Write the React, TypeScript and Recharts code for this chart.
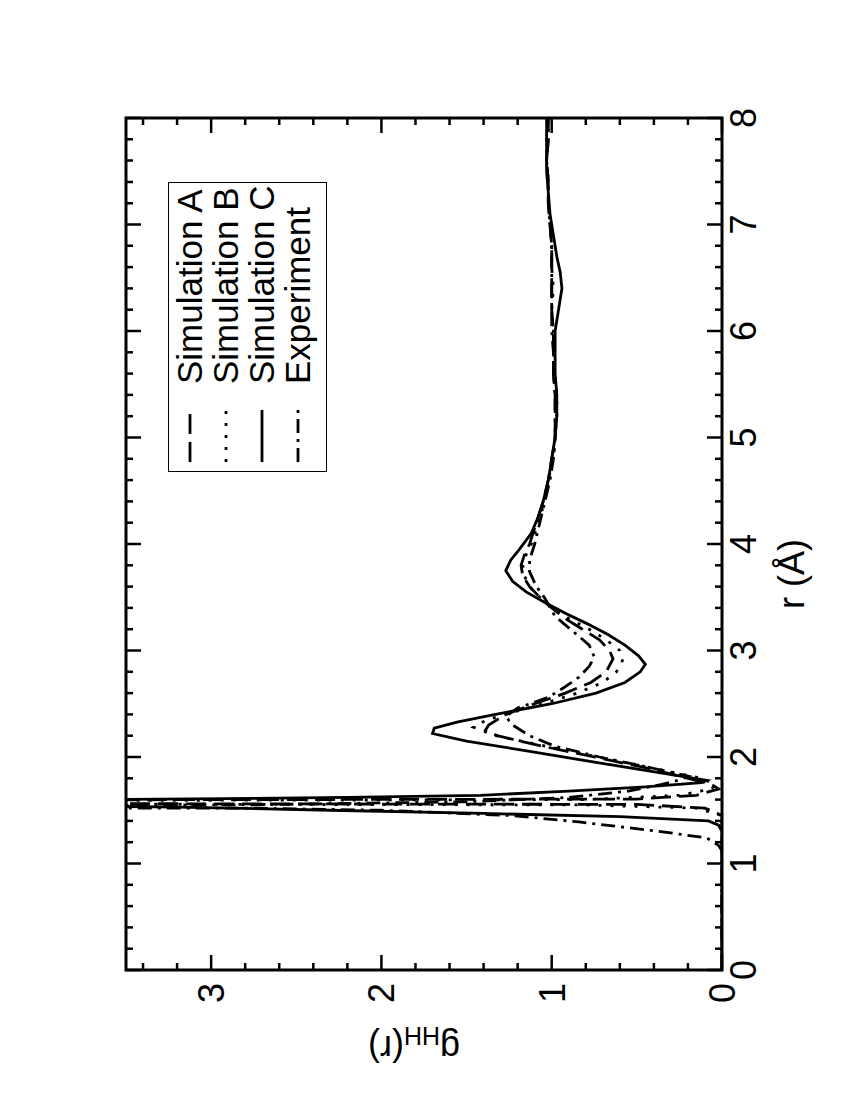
import { LineChart, Line, XAxis, YAxis, ReferenceArea, Label } from "recharts";

// Simulation A (dashed)
const rA = [0, 1.0, 1.45, 1.52, 1.555, 1.58, 1.605, 1.64, 1.7, 1.75, 1.8, 1.9, 2.0, 2.1, 2.2, 2.25, 2.3, 2.4, 2.5, 2.6, 2.7, 2.8, 2.92, 3.0, 3.1, 3.2, 3.3, 3.4, 3.5, 3.6, 3.7, 3.8, 3.9, 4.0, 4.2, 4.4, 4.6, 4.8, 5.0, 5.2, 5.4, 5.6, 5.8, 6.0, 6.2, 6.4, 6.6, 6.8, 7.0, 7.2, 7.4, 7.6, 7.8, 8.0];
const gA = [0, 0, 0, 0.1, 0.5, 12, 0.5, 0.15, 0.02, 0.07, 0.2, 0.45, 0.75, 1.05, 1.32, 1.39, 1.37, 1.27, 1.1, 0.92, 0.77, 0.68, 0.64, 0.66, 0.72, 0.82, 0.92, 1.0, 1.07, 1.13, 1.17, 1.18, 1.16, 1.13, 1.09, 1.05, 1.02, 1.0, 0.98, 0.98, 0.98, 0.99, 0.99, 0.99, 1.0, 1.0, 1.0, 1.0, 1.01, 1.02, 1.02, 1.03, 1.02, 1.02];

// Simulation B (dotted)
const rB = [0, 1.0, 1.45, 1.52, 1.55, 1.575, 1.6, 1.64, 1.7, 1.74, 1.8, 1.9, 2.0, 2.1, 2.2, 2.28, 2.35, 2.4, 2.5, 2.6, 2.7, 2.8, 2.92, 3.0, 3.1, 3.2, 3.3, 3.4, 3.5, 3.6, 3.7, 3.8, 3.9, 4.0, 4.2, 4.4, 4.6, 4.8, 5.0, 5.2, 5.4, 5.6, 5.8, 6.0, 6.2, 6.4, 6.6, 6.8, 7.0, 7.2, 7.4, 7.6, 7.8, 8.0];
const gB = [0, 0, 0, 0.15, 0.8, 10, 0.8, 0.25, 0.06, 0.04, 0.12, 0.42, 0.73, 1.03, 1.33, 1.46, 1.38, 1.27, 1.05, 0.85, 0.7, 0.62, 0.58, 0.6, 0.68, 0.78, 0.9, 1.0, 1.07, 1.13, 1.16, 1.17, 1.15, 1.12, 1.08, 1.04, 1.02, 0.99, 0.98, 0.97, 0.97, 0.98, 0.99, 0.99, 1.0, 0.99, 1.0, 1.0, 1.01, 1.02, 1.02, 1.03, 1.03, 1.02];

// Simulation C (solid)
const rC = [0, 1.0, 1.3, 1.36, 1.4, 1.44, 1.47, 1.5, 1.53, 1.565, 1.6, 1.62, 1.64, 1.68, 1.72, 1.76, 1.78, 1.85, 1.95, 2.05, 2.15, 2.22, 2.27, 2.33, 2.4, 2.5, 2.6, 2.7, 2.8, 2.87, 2.95, 3.05, 3.15, 3.25, 3.35, 3.45, 3.55, 3.65, 3.75, 3.85, 3.95, 4.1, 4.25, 4.4, 4.6, 4.8, 5.0, 5.2, 5.4, 5.6, 5.8, 6.0, 6.2, 6.4, 6.55, 6.7, 6.9, 7.1, 7.3, 7.5, 7.7, 8.0];
const gC = [0, 0, 0, 0.02, 0.08, 0.6, 1.4, 2.3, 3.2, 5.2, 3.6, 2.2, 1.42, 0.9, 0.45, 0.12, 0.09, 0.36, 0.74, 1.12, 1.5, 1.7, 1.69, 1.55, 1.33, 1.0, 0.74, 0.57, 0.48, 0.45, 0.49, 0.57, 0.67, 0.79, 0.92, 1.04, 1.15, 1.23, 1.27, 1.24, 1.19, 1.12, 1.08, 1.05, 1.02, 1.0, 0.98, 0.97, 0.97, 0.98, 0.98, 0.98, 0.96, 0.94, 0.95, 0.97, 0.99, 1.01, 1.02, 1.03, 1.03, 1.03];

// Experiment (dash-dot)
const rE = [0, 1.0, 1.12, 1.17, 1.24, 1.3, 1.39, 1.45, 1.5, 1.52, 1.535, 1.55, 1.58, 1.62, 1.68, 1.74, 1.78, 1.82, 1.9, 2.0, 2.1, 2.2, 2.3, 2.38, 2.46, 2.56, 2.65, 2.75, 2.85, 2.94, 3.05, 3.16, 3.32, 3.49, 3.6, 3.74, 3.85, 4.0, 4.2, 4.4, 4.6, 4.8, 5.0, 5.2, 5.4, 5.6, 5.8, 6.0, 6.2, 6.4, 6.6, 6.8, 7.0, 7.2, 7.4, 7.6, 7.8, 8.0];
const gE = [0, 0, 0, 0.02, 0.09, 0.36, 0.84, 1.23, 2.0, 2.8, 12, 2.8, 1.5, 0.9, 0.55, 0.36, 0.26, 0.2, 0.42, 0.72, 0.98, 1.13, 1.23, 1.27, 1.2, 1.02, 0.93, 0.84, 0.78, 0.75, 0.78, 0.86, 0.98, 1.04, 1.09, 1.13, 1.13, 1.1, 1.07, 1.04, 1.01, 0.99, 0.98, 0.98, 0.98, 0.99, 0.99, 1.0, 1.0, 1.0, 1.0, 1.0, 1.01, 1.02, 1.02, 1.03, 1.02, 1.02];

const xMajor = [0, 1, 2, 3, 4, 5, 6, 7, 8];
const yMajor = [0, 1, 2, 3];
const seriesNames = ["Simulation A", "Simulation B", "Simulation C", "Experiment"];

// minor ticks every 0.2
const xTicks = Array.from({ length: 41 }, (_, i) => Math.round(i * 2) / 10);
const yTicks = Array.from({ length: 18 }, (_, i) => Math.round(i * 2) / 10);

const toPoints = (rs: number[], gs: number[]) => rs.map((r, i) => ({ r, g: gs[i] }));

const W = 1002;
const H = 726;
const MARGIN = { top: 20, right: 40, bottom: 0, left: 0 };
const Y_AXIS_W = 110;
const X_AXIS_H = 110;
const PLOT_L = MARGIN.left + Y_AXIS_W;
const PLOT_T = MARGIN.top;
const PLOT_R = W - MARGIN.right;
const PLOT_B = H - MARGIN.bottom - X_AXIS_H;
const FONT = "'Liberation Sans', Arial, Helvetica, sans-serif";

const DASH: Record<string, string | undefined> = {
  "Simulation A": "20 8",
  "Simulation B": "3 9",
  "Simulation C": undefined,
  Experiment: "14 6 3 6",
};

const isMajor = (v: number) => Math.abs(v - Math.round(v)) < 1e-6;

function XTick(props: any) {
  const { x, payload } = props;
  const v = payload.value as number;
  const len = isMajor(v) ? 15 : 7;
  return (
    <g>
      <line x1={x} x2={x} y1={PLOT_B} y2={PLOT_B - len} stroke="#000" strokeWidth={2.5} />
      <line x1={x} x2={x} y1={PLOT_T} y2={PLOT_T + len} stroke="#000" strokeWidth={2.5} />
      {isMajor(v) && xMajor.includes(Math.round(v)) && (
        <text x={x} y={PLOT_B + 34} textAnchor="middle" fontSize={36} fill="#000" fontFamily={FONT}>
          {Math.round(v)}
        </text>
      )}
    </g>
  );
}

function YTick(props: any) {
  const { y, payload } = props;
  const v = payload.value as number;
  const len = isMajor(v) ? 15 : 7;
  return (
    <g>
      <line x1={PLOT_L} x2={PLOT_L + len} y1={y} y2={y} stroke="#000" strokeWidth={2.5} />
      <line x1={PLOT_R} x2={PLOT_R - len} y1={y} y2={y} stroke="#000" strokeWidth={2.5} />
      {isMajor(v) && yMajor.includes(Math.round(v)) && (
        <text x={PLOT_L - 13} y={y + 13} textAnchor="end" fontSize={36} fill="#000" fontFamily={FONT}>
          {Math.round(v)}
        </text>
      )}
    </g>
  );
}

function LegendBox() {
  return (
    <div
      style={{
        position: "absolute",
        left: 608,
        top: 62,
        width: 290,
        height: 159,
        boxSizing: "border-box",
        border: "1.5px solid #000",
        background: "#fff",
        paddingTop: 3,
        fontFamily: FONT,
        fontSize: 35,
        lineHeight: "36px",
        color: "#000",
      }}
    >
      {seriesNames.map((name) => (
        <div key={name} style={{ display: "flex", alignItems: "center", height: 36 }}>
          <svg width={62} height={6} style={{ marginLeft: 9, marginRight: 16 }}>
            <line x1={0} x2={52} y1={3} y2={3} stroke="#000" strokeWidth={2.8} strokeDasharray={DASH[name]} />
          </svg>
          <span>{name}</span>
        </div>
      ))}
    </div>
  );
}

export default function App() {
  const series = [
    { name: "Simulation A", data: toPoints(rA, gA) },
    { name: "Simulation B", data: toPoints(rB, gB) },
    { name: "Simulation C", data: toPoints(rC, gC) },
    { name: "Experiment", data: toPoints(rE, gE) },
  ];

  return (
    <div style={{ position: "fixed", left: 0, top: 0, width: 850, height: 1100, overflow: "hidden", background: "#fff" }}>
      <div
        style={{
          position: "absolute",
          left: 106,
          top: 1080,
          width: W,
          height: H,
          transformOrigin: "0 0",
          transform: "rotate(-90deg)",
        }}
      >
        <LineChart width={W} height={H} margin={MARGIN} style={{ fontFamily: FONT }}>
          <XAxis
            type="number"
            dataKey="r"
            domain={[0, 8]}
            ticks={xTicks}
            interval={0}
            allowDataOverflow
            axisLine={false}
            tickLine={false}
            height={X_AXIS_H}
            tick={<XTick />}
          >
            <Label
              content={() => (
                <text x={PLOT_L + 396} y={PLOT_B + 82} textAnchor="middle" fontSize={36} fill="#000" fontFamily={FONT}>
                  r (Å)
                </text>
              )}
            />
          </XAxis>
          <YAxis
            type="number"
            dataKey="g"
            domain={[0, 3.5]}
            ticks={yTicks}
            interval={0}
            allowDataOverflow
            axisLine={false}
            tickLine={false}
            width={Y_AXIS_W}
            tick={<YTick />}
          >
            <Label
              content={() => (
                <text
                  x={44}
                  y={308}
                  transform="rotate(-90, 44, 308)"
                  textAnchor="middle"
                  fontSize={36}
                  fill="#000"
                  fontFamily={FONT}
                >
                  g
                  <tspan fontSize={25} dy={9}>HH</tspan>
                  <tspan dy={-9}>(r)</tspan>
                </text>
              )}
            />
          </YAxis>
          {series.map((s) => (
            <Line
              key={s.name}
              data={s.data}
              dataKey="g"
              name={s.name}
              type="linear"
              stroke="#000"
              strokeWidth={2.8}
              strokeDasharray={DASH[s.name]}
              dot={false}
              activeDot={false}
              isAnimationActive={false}
            />
          ))}
          <ReferenceArea x1={0} x2={8} y1={0} y2={3.5} fill="none" fillOpacity={0} stroke="#000" strokeWidth={3} />
        </LineChart>
        <LegendBox />
      </div>
    </div>
  );
}
